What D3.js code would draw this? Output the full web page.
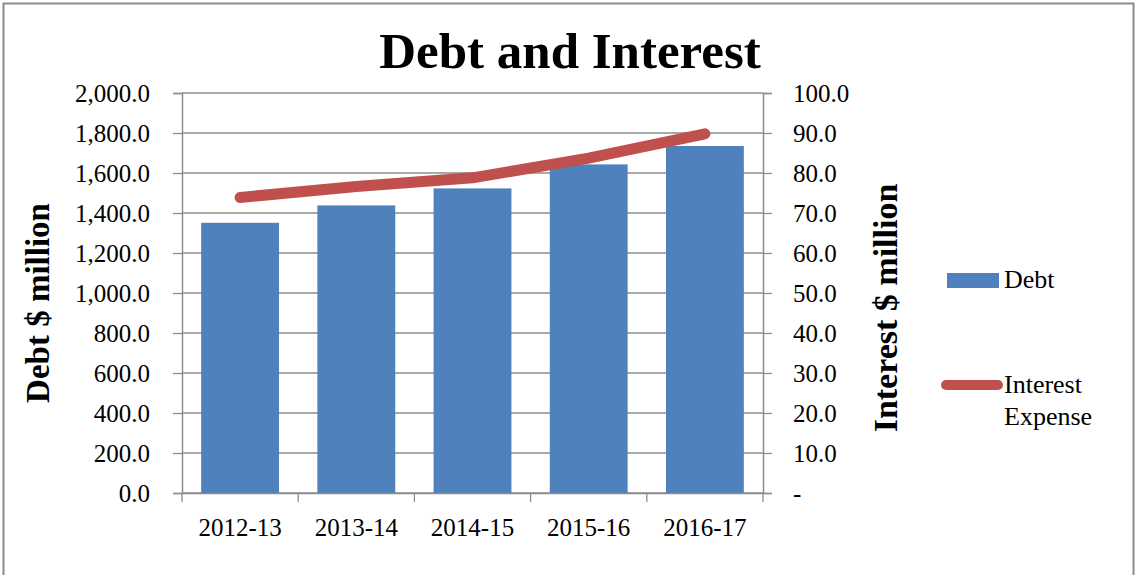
<!DOCTYPE html>
<html>
<head>
<meta charset="utf-8">
<script src="https://cdn.jsdelivr.net/npm/d3@7"></script>
<style>
  body { margin: 0; background: #fff; }
  text { font-family: "Liberation Serif", "DejaVu Serif", serif; fill: #000; }
</style>
</head>
<body>
<svg width="1138" height="575"></svg>
<script>
// données
const years = ["2012-13", "2013-14", "2014-15", "2015-16", "2016-17"];
const debt = [1351, 1438, 1523, 1643, 1735];
const interest = [73.9, 76.6, 78.8, 83.7, 89.8];
const debtTicks = [0, 200, 400, 600, 800, 1000, 1200, 1400, 1600, 1800, 2000];
const interestTicks = [0, 10, 20, 30, 40, 50, 60, 70, 80, 90, 100];

const svg = d3.select("svg");
const fs = 25; // taille du texte des axes

// cadre extérieur
svg.append("rect")
  .attr("x", 3.5).attr("y", 3.5)
  .attr("width", 1130).attr("height", 580)
  .attr("fill", "none").attr("stroke", "#8c8c8c").attr("stroke-width", 2);

const pLeft = 182, pRight = 763, pTop = 93, pBottom = 493;

const x = d3.scaleBand().domain(years).range([pLeft, pRight]).paddingInner(0.33).paddingOuter(0.165);
const xEdge = d3.scaleBand().domain(years).range([pLeft, pRight]);
const yL = d3.scaleLinear().domain([0, 2000]).range([pBottom, pTop]);
const yR = d3.scaleLinear().domain([0, 100]).range([pBottom, pTop]);

// grille
svg.append("g")
  .selectAll("line")
  .data(debtTicks)
  .join("line")
  .attr("x1", pLeft).attr("x2", pRight)
  .attr("y1", d => yL(d)).attr("y2", d => yL(d))
  .attr("stroke", "#8c8c8c").attr("stroke-width", 1.3);

// barres
svg.append("g")
  .selectAll("rect")
  .data(debt)
  .join("rect")
  .attr("x", (d, i) => x(years[i]))
  .attr("y", d => yL(d))
  .attr("width", x.bandwidth())
  .attr("height", d => pBottom - yL(d))
  .attr("fill", "#4f81bd");

// axe gauche
const axL = svg.append("g")
  .attr("transform", `translate(${pLeft},0)`)
  .call(d3.axisLeft(yL).tickValues(debtTicks).tickSize(9).tickPadding(23)
    .tickFormat(d3.format(",.1f")));
axL.select(".domain").attr("stroke", "#8c8c8c").attr("stroke-width", 1.5);
axL.selectAll(".tick line").attr("stroke", "#8c8c8c").attr("stroke-width", 1.3);
axL.selectAll("text").attr("font-size", fs).attr("font-family", "Liberation Serif").attr("fill", "#000");

// axe droit
const axR = svg.append("g")
  .attr("transform", `translate(${pRight},0)`)
  .call(d3.axisRight(yR).tickValues(interestTicks).tickSize(9).tickPadding(21)
    .tickFormat(d => d === 0 ? "-" : d3.format(".1f")(d)));
axR.select(".domain").attr("stroke", "#8c8c8c").attr("stroke-width", 1.5);
axR.selectAll(".tick line").attr("stroke", "#8c8c8c").attr("stroke-width", 1.3);
axR.selectAll("text").attr("font-size", fs).attr("font-family", "Liberation Serif").attr("fill", "#000");

// axe bas
const axB = svg.append("g")
  .attr("transform", `translate(0,${pBottom})`)
  .call(d3.axisBottom(xEdge).tickSize(0).tickPadding(25));
axB.select(".domain").attr("stroke", "#8c8c8c").attr("stroke-width", 1.5);
axB.selectAll("text").attr("font-size", fs).attr("font-family", "Liberation Serif").attr("fill", "#000");
axB.selectAll(".tick").append("line")
  .attr("x1", -xEdge.bandwidth() / 2).attr("x2", -xEdge.bandwidth() / 2)
  .attr("y1", 0).attr("y2", 9)
  .attr("stroke", "#8c8c8c").attr("stroke-width", 1.3);
svg.append("line")
  .attr("x1", pRight).attr("x2", pRight).attr("y1", pBottom).attr("y2", pBottom + 9)
  .attr("stroke", "#8c8c8c").attr("stroke-width", 1.3);

// ligne des intérêts
const line = d3.line()
  .x((d, i) => x(years[i]) + x.bandwidth() / 2)
  .y(d => yR(d));
svg.append("path")
  .datum(interest)
  .attr("d", line)
  .attr("fill", "none")
  .attr("stroke", "#c0504d")
  .attr("stroke-width", 11)
  .attr("stroke-linecap", "round")
  .attr("stroke-linejoin", "round");

// titres
svg.append("text")
  .attr("x", 570).attr("y", 68)
  .attr("text-anchor", "middle")
  .attr("font-size", 51).attr("font-weight", "bold")
  .text("Debt and Interest");

svg.append("text")
  .attr("transform", "translate(49,303) rotate(-90)")
  .attr("text-anchor", "middle")
  .attr("font-size", 33).attr("font-weight", "bold")
  .text("Debt $ million");

svg.append("text")
  .attr("transform", "translate(897,308) rotate(-90)")
  .attr("text-anchor", "middle")
  .attr("font-size", 34).attr("font-weight", "bold")
  .text("Interest $ million");

// légende
svg.append("rect")
  .attr("x", 947).attr("y", 273).attr("width", 52).attr("height", 15)
  .attr("fill", "#4f81bd");
svg.append("text").attr("x", 1004).attr("y", 288).attr("font-size", 26).text("Debt");

svg.append("line")
  .attr("x1", 946).attr("x2", 998).attr("y1", 385).attr("y2", 385)
  .attr("stroke", "#c0504d").attr("stroke-width", 10).attr("stroke-linecap", "round");
svg.append("text").attr("x", 1004).attr("y", 393).attr("font-size", 26).text("Interest");
svg.append("text").attr("x", 1004).attr("y", 425).attr("font-size", 26).text("Expense");
</script>
</body>
</html>
